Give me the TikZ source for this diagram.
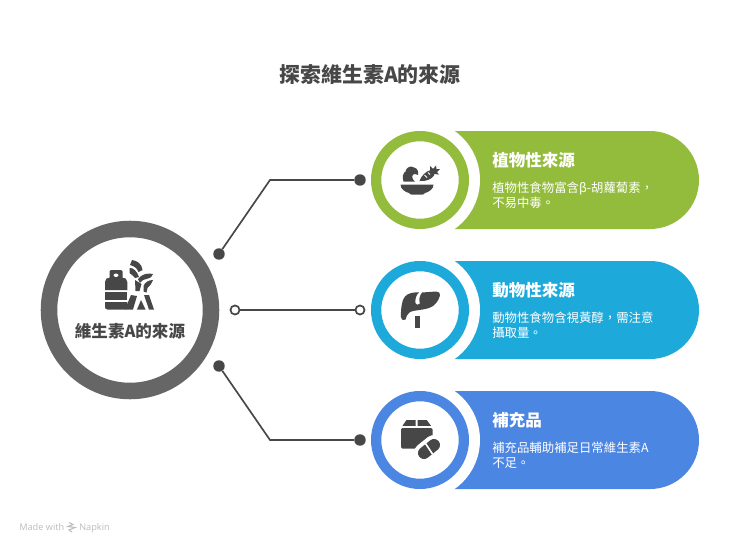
\documentclass[tikz,border=0pt]{standalone}
\usepackage{fontspec}
\setmainfont{Noto Sans CJK TC}
\newfontfamily\wmfont{Open Sans}
\definecolor{inkdark}{HTML}{474747}
\definecolor{ringgrey}{HTML}{666666}
\definecolor{cgreen}{HTML}{94BC3C}
\definecolor{cblue}{HTML}{1DAADB}
\definecolor{croyal}{HTML}{4C86E3}
\definecolor{wmgrey}{HTML}{BDBDBD}
\tikzset{
  titletext/.style={font=\fontsize{15.7pt}{18pt}\selectfont\bfseries,text=inkdark,inner sep=0pt},
  centertext/.style={font=\fontsize{12.4pt}{15pt}\selectfont\bfseries,text=inkdark,inner sep=0pt},
  headtext/.style={font=\fontsize{12.4pt}{15pt}\selectfont\bfseries,text=white,anchor=west,inner sep=0pt},
  bodytext/.style={font=\fontsize{9.3pt}{11.25pt}\selectfont,text=white,anchor=west,inner sep=0pt,align=left},
  bigring/.style={circle,draw=ringgrey,fill=white,line width=12.4pt,minimum size=121.5pt,inner sep=0pt},
  smallring/.style={circle,fill=white,line width=7.7pt,minimum size=65.8pt,inner sep=0pt},
  gapdisc/.style={circle,fill=white,minimum size=90pt,inner sep=0pt},
  dotfull/.style={circle,fill=inkdark,minimum size=8.6pt,inner sep=0pt},
  dothollow/.style={circle,draw=inkdark,fill=white,line width=1.3pt,minimum size=6.8pt,inner sep=0pt},
  linkline/.style={draw=inkdark,line width=1.25pt},
  icon/.style={fill=inkdark,draw=none},
  wm/.style={font=\wmfont\fontsize{6.9pt}{8pt}\selectfont,text=wmgrey,anchor=base west,inner sep=0pt}
}
\begin{document}
\begin{tikzpicture}[x=.75pt,y=-.75pt]
\useasboundingbox (0,0) rectangle (740,550);
\fill[white] (0,0) rectangle (740,550);

\node[titletext] (title) at (370,75) {探索維生素A的來源};

% pills
\fill[cgreen] (420,131) [rounded corners=36.7pt] -- (699,131) -- (699,229) [sharp corners] -- (420,229) -- cycle;
\fill[cblue] (420,261) [rounded corners=36.7pt] -- (699,261) -- (699,359) [sharp corners] -- (420,359) -- cycle;
\fill[croyal] (420,391) [rounded corners=36.7pt] -- (699,391) -- (699,489) [sharp corners] -- (420,489) -- cycle;
\node[gapdisc] (g1) at (420,180) {};
\node[gapdisc] (g2) at (420,310) {};
\node[gapdisc] (g3) at (420,440) {};
\node[smallring,draw=cgreen] (r1) at (420,180) {};
\node[smallring,draw=cblue] (r2) at (420,310) {};
\node[smallring,draw=croyal] (r3) at (420,440) {};

% centre
\node[bigring] (hub) at (130,310) {};
\node[centertext] (hublabel) at (130,331) {維生素A的來源};

% connectors
\node[dotfull] (a1) at (219,254) {};
\node[dothollow] (a2) at (235,310) {};
\node[dotfull] (a3) at (219,366) {};
\node[dotfull] (b1) at (360,180) {};
\node[dothollow] (b2) at (360,310) {};
\node[dotfull] (b3) at (360,440) {};
\coordinate (k1) at (270,180);
\coordinate (k3) at (270,440);
\path[linkline] (a1) -- (k1) -- (b1);
\path[linkline] (a2) -- (b2);
\path[linkline] (a3) -- (k3) -- (b3);

% texts
\node[headtext] (h1) at (492,160) {植物性來源};
\node[bodytext] (t1) at (492,195) {植物性食物富含β-胡蘿蔔素，\\不易中毒。};
\node[headtext] (h2) at (492,290) {動物性來源};
\node[bodytext] (t2) at (492,325) {動物性食物含視黃醇，需注意\\攝取量。};
\node[headtext] (h3) at (492,420) {補充品};
\node[bodytext] (t3) at (492,455) {補充品輔助補足日常維生素A\\不足。};

% hub icon: canister
\fill[icon,even odd rule,rounded corners=1pt] (109.5,270) rectangle (122.5,279) (113.5,273.5) rectangle (118.5,277);
\fill[icon] (105,290) -- (105,282) .. controls (105,279) and (107,277.5) .. (110,277.5) -- (122,277.5) .. controls (125,277.5) and (127.3,279) .. (127.3,282) -- (127.3,290) -- cycle;
\fill[icon] (105,292) rectangle (127.3,300);
\fill[icon] (105,302) -- (127.3,302) -- (127.3,307) .. controls (127.3,308.5) and (126.5,309.5) .. (125,309.5) -- (107.5,309.5) .. controls (106,309.5) and (105,308.5) .. (105,307) -- cycle;
% hub icon: plant
\fill[icon] (132,260) .. controls (137,260.5) and (142,264) .. (142.5,270) -- (138.5,272) .. controls (137,268) and (134,266) .. (130,265) -- cycle;
\fill[icon] (129.5,268) .. controls (133,267.5) and (137,271) .. (139,277) -- (135,278) .. controls (133,275.5) and (131,274) .. (129.5,273) -- cycle;
\fill[icon] (138,279) .. controls (141,274.5) and (148,272.5) .. (153,274) .. controls (152.5,277) and (150,278) .. (148,278.5) .. controls (145,279) and (142,280) .. (140,283) -- cycle;
\fill[icon] (135,280) -- (141.5,284) -- (139.5,291) -- (135.5,291) -- cycle;
\fill[icon] (143.5,286) .. controls (145,282) and (149,280) .. (153,280) .. controls (151.5,284) and (149.5,286) .. (147.5,288) -- (146.5,292.5) -- (143.5,291.5) -- cycle;
\fill[icon] (131,295) -- (137,296) -- (133,309.5) -- (125,309.5) -- cycle;
\fill[icon] (141,300) -- (145.5,309.5) -- (137,309.5) -- cycle;
\fill[icon] (144,295) -- (149,295) -- (154,309.5) -- (149,309.5) -- cycle;

% bowl icon
\fill[icon] (400.5,184.5) -- (433.5,184.5) .. controls (433.5,189) and (429,192) .. (425,193) .. controls (424,194.5) and (423,194.7) .. (421,194.7) -- (413,194.7) .. controls (411,194.7) and (410,194.5) .. (409,193) .. controls (405,192) and (400.5,189) .. (400.5,184.5) -- cycle;
\fill[icon] (403.5,181.5) .. controls (402,177) and (403,173) .. (405.5,171.5) .. controls (406,167.5) and (411,165) .. (414,167.5) .. controls (417,168) and (419,171.5) .. (418,175) .. controls (414,172.5) and (411.5,175) .. (412.5,178) .. controls (413,180) and (414,181) .. (415,181.5) -- cycle;
\fill[icon] (419.5,181) .. controls (421,176) and (426,171) .. (431,170) .. controls (434,170.5) and (435,173) .. (434,175.5) .. controls (431,180) and (425,181.5) .. (419.5,181) -- cycle;
\fill[icon] (430,171.5) -- (430,166) -- (433,169) -- (436,165.5) -- (436.5,169) -- (440,169) -- (437,172) -- (439,174.5) -- (434,174) -- cycle;
\draw[white,line width=.7pt] (424.5,175) -- (427,177.5) (428,172.5) -- (430,174.5);

% liver icon
\fill[icon] (401,317) .. controls (400.5,308) and (402.5,299) .. (405,296.5) .. controls (408,293) and (414,292) .. (419,292.5) .. controls (416,295) and (415,299) .. (415.5,303) .. controls (416,305) and (418,305.5) .. (420,303.5) .. controls (418.5,300) and (419.5,296) .. (422,292.5) -- (436,291.5) .. controls (439,291.5) and (440.5,293) .. (440,295.5) .. controls (438.5,301) and (435,306) .. (429,308) .. controls (421,310.5) and (414,310) .. (410,312) .. controls (407,313.5) and (406.5,317) .. (405.5,319.5) .. controls (404,321.5) and (401.5,320) .. (401,317) -- cycle;
\fill[icon] (415,316) rectangle (419.5,327.5);

% box icon
\fill[icon] (406.5,420) -- (415.5,420) -- (415.5,425.8) -- (402.5,425.8) -- cycle;
\fill[icon] (417.7,420) -- (426.7,420) -- (431,425.8) -- (417.7,425.8) -- cycle;
\fill[icon,rounded corners=1pt] (401,428) rectangle (432.5,448.5);
\draw[white,line width=15pt,line cap=round] (424,453) -- (434,445);
\draw[inkdark,line width=9pt,line cap=round] (424,453) -- (434,445);
\draw[white,line width=1.2pt] (425.5,443.5) -- (432.5,454);

% watermark
\node[wm] (w1) at (19,530) {Made with};
\node[wm] (w2) at (79,530) {Napkin};
\draw[wmgrey,line width=.8pt] (69,522.5) -- (73,524.5) -- (68,526.5) -- (75,527.5) -- (69,530) -- (72,532);
\end{tikzpicture}
\end{document}
